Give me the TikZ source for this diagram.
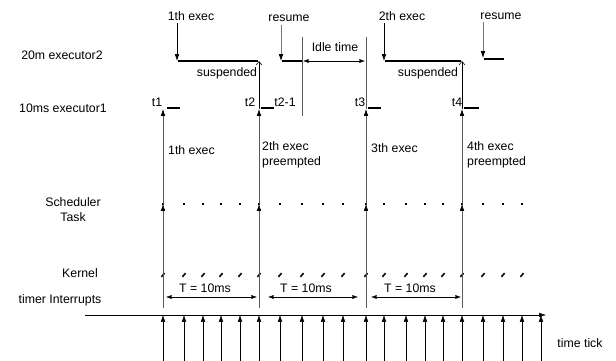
\documentclass[tikz,border=0pt]{standalone}
\usepackage{fontspec}
\setmainfont{Liberation Sans}
\usetikzlibrary{arrows.meta, positioning, calc}
\definecolor{LineGray}{HTML}{5A5A5A}
\definecolor{SoftGray}{HTML}{7A7A7A}
\tikzset{
  lbl/.style={inner sep=0pt, font=\fontsize{12.3}{15}\selectfont},
  leftlbl/.style={lbl, anchor=west, align=left},
  bar/.style={line width=2pt, draw=black},
  tickarrow/.style={-{Latex[length=2.4mm, width=1.6mm]}, thin, draw=black},
  mainline/.style={-{Latex[length=2.4mm, width=1.6mm, color=black]}, semithick, draw=LineGray},
  topline/.style={-{Straight Barb[length=1.2mm, width=2mm]}, semithick, draw=black},
  plainline/.style={semithick, draw=LineGray},
  execarrow/.style={-{Latex[length=2.4mm, width=1.6mm]}, semithick, draw=black},
  resumearrow/.style={-{Latex[length=2.4mm, width=1.6mm, color=black]}, semithick, draw=SoftGray},
  spanarrow/.style={{Latex[length=2mm, width=1.4mm]}-{Latex[length=2mm, width=1.4mm]}, thin, draw=black}
}
\begin{document}
\begin{tikzpicture}[x=1pt, y=-1pt]
\useasboundingbox (0,0) rectangle (616,361);
% row labels
\node[lbl] (ex2) at (62,55) {20m executor2};
\node[lbl] (ex1) at (63,108) {10ms executor1};
\node[lbl, align=center] (sched) at (73,210) {Scheduler\\Task};
\node[lbl] (kern) at (80,273) {Kernel};
\node[lbl] (tint) at (60,300) {timer Interrupts};
\node[lbl] (tick) at (580,343) {time tick};

% time axis and timer ticks
\coordinate (ax0) at (85,315);
\coordinate (ax1) at (546,315);
\draw[tickarrow] (ax0) -- (ax1);
\foreach \x [count=\i] in {163,184,203,221,240,259,280,302,323,343,366,384,406,425,443,462,483,503,522,541} {
  \coordinate (tb\i) at (\x,361);
  \coordinate (ta\i) at (\x,315);
  \draw[tickarrow] (tb\i) -- (ta\i);
}
% scheduler dots and kernel marks
\foreach \x [count=\i] in {163,184,203,221,240,259,280,302,323,343,366,384,406,425,443,462,483,503,522} {
  \fill ($(\x,204)+(-1.1,-1.1)$) rectangle ($(\x,204)+(1.1,1.1)$);
  \draw[line width=1.6pt] ($(\x,275)+(-1.6,1.8)$) -- ($(\x,275)+(1.6,-1.8)$);
}

% main activation lines
\foreach \x/\n in {163/1,259/2,366/3,462/4} {
  \coordinate (low\n) at (\x,308);
  \coordinate (sch\n) at (\x,204);
  \coordinate (run\n) at (\x,109);
  \draw[mainline] (low\n) -- (sch\n);
  \draw[mainline] (sch\n) -- (run\n);
}
\coordinate (top2) at (259,61);
\coordinate (top4) at (462,61);
\coordinate (top3) at (366,37);
\draw[topline] (run2) -- (top2);
\draw[topline] (run4) -- (top4);
\draw[plainline] (run3) -- (top3);

% executor1 bars
\draw[bar] (167,108) -- (180,108);
\draw[bar] (261,108) -- (274,108);
\draw[bar] (368,108) -- (381,108);
\draw[bar] (464,108) -- (479,108);
\node[lbl] (t1) at (157,102) {t1};
\node[lbl] (t2) at (250,102) {t2};
\node[lbl] (t21) at (285,102) {t2-1};
\node[lbl] (t3) at (360,102) {t3};
\node[lbl] (t4) at (457,102) {t4};

% executor2 bars
\draw[bar] (178,61) -- (258,61);
\draw[bar] (282,61) -- (302,61);
\draw[bar] (385,61) -- (461,61);
\draw[bar] (484,59) -- (504,59);
\node[lbl] (sus1) at (227,73) {suspended};
\node[lbl] (sus2) at (428,73) {suspended};

% exec / resume arrows
\node[lbl] (ex2a) at (191,16) {1th exec};
\node[lbl] (res1) at (289,18) {resume};
\node[lbl] (ex2b) at (402,16) {2th exec};
\node[lbl] (res2) at (501,16) {resume};
\coordinate (ea0) at (177,23);
\coordinate (ea1) at (177,61);
\coordinate (ra0) at (281,25);
\coordinate (ra1) at (281,61);
\coordinate (eb0) at (384,23);
\coordinate (eb1) at (384,61);
\coordinate (rb0) at (483,22);
\coordinate (rb1) at (483,58);
\draw[execarrow] (ea0) -- (ea1);
\draw[resumearrow] (ra0) -- (ra1);
\draw[execarrow] (eb0) -- (eb1);
\draw[resumearrow] (rb0) -- (rb1);

% idle time
\coordinate (idt) at (302,37);
\coordinate (idb) at (302,116);
\draw[plainline] (idt) -- (idb);
\coordinate (idl) at (303,61);
\coordinate (idr) at (365,61);
\draw[spanarrow] (idl) -- (idr);
\node[lbl] (idle) at (335,47) {Idle time};

% exec labels
\node[leftlbl] (l1) at (168,150) {1th exec};
\node[leftlbl] (l2) at (262,155) {2th exec\\preempted};
\node[leftlbl] (l3) at (371,148) {3th exec};
\node[leftlbl] (l4) at (467,155) {4th exec\\preempted};

% periods
\coordinate (p1a) at (166,297);
\coordinate (p1b) at (257,297);
\coordinate (p2a) at (268,297);
\coordinate (p2b) at (358,297);
\coordinate (p3a) at (371,297);
\coordinate (p3b) at (461,297);
\draw[spanarrow] (p1a) -- (p1b);
\draw[spanarrow] (p2a) -- (p2b);
\draw[spanarrow] (p3a) -- (p3b);
\node[lbl] (tp1) at (205,288) {T = 10ms};
\node[lbl] (tp2) at (306,288) {T = 10ms};
\node[lbl] (tp3) at (410,288) {T = 10ms};
\end{tikzpicture}
\end{document}
